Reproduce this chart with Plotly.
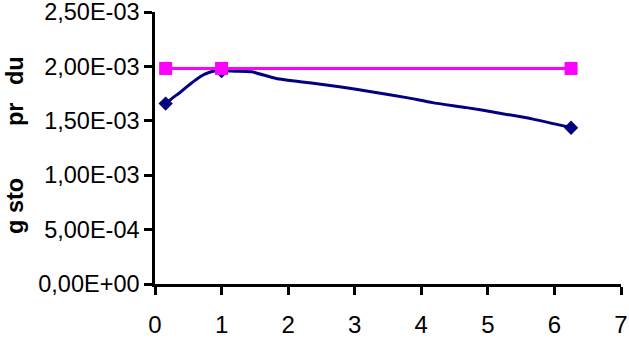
import plotly.graph_objects as go

# navy markers (measured points)
x_navy = [0.16, 1.0, 6.25]
y_navy = [1.659e-3, 1.957e-3, 1.437e-3]
# navy connecting curve
curve_x = [0.16, 0.27, 0.37, 0.49, 0.62, 0.74, 0.87, 1.0, 1.2, 1.45, 1.82, 2.32,
           2.77, 3.27, 3.78, 4.17, 4.68, 5.18, 5.68, 6.25]
curve_y = [1.659e-3, 1.714e-3, 1.759e-3, 1.820e-3, 1.881e-3, 1.927e-3, 1.957e-3,
           1.962e-3, 1.957e-3, 1.951e-3, 1.890e-3, 1.850e-3, 1.814e-3, 1.766e-3,
           1.714e-3, 1.668e-3, 1.622e-3, 1.571e-3, 1.516e-3, 1.437e-3]
# magenta series
x_mag = [0.16, 1.0, 6.25]
y_mag = [1.982e-3, 1.982e-3, 1.982e-3]

y_tickvals = [0, 5e-4, 1e-3, 1.5e-3, 2e-3, 2.5e-3]
y_ticktext = ["0,00E+00", "5,00E-04", "1,00E-03", "1,50E-03", "2,00E-03", "2,50E-03"]
x_tickvals = [0, 1, 2, 3, 4, 5, 6, 7]
title_words = ["g sto", "pr", "du"]

NAVY = "#000080"
MAGENTA = "#FF00FF"

fig = go.Figure()
fig.add_trace(go.Scatter(
    x=curve_x, y=curve_y, mode="lines",
    line=dict(color=NAVY, width=3, shape="spline", smoothing=0.5),
    cliponaxis=False, showlegend=False, hoverinfo="skip"))
fig.add_trace(go.Scatter(
    x=x_navy, y=y_navy, mode="markers",
    marker=dict(symbol="diamond", size=11, color=NAVY),
    cliponaxis=False, showlegend=False))
fig.add_trace(go.Scatter(
    x=x_mag, y=y_mag, mode="lines+markers",
    line=dict(color=MAGENTA, width=3),
    marker=dict(symbol="square", size=13, color=MAGENTA),
    cliponaxis=False, showlegend=False))

font = "Liberation Sans, Arial, sans-serif"
TOP, BOTTOM = 12, 284
# pixel centres of the title words
title_py = [206, 114, 71]
annotations = [dict(text="<b>" + w + "</b>", textangle=-90,
                    xref="paper", yref="paper", x=(15 - 155) / 466,
                    y=(BOTTOM - py) / (BOTTOM - TOP),
                    xanchor="center", yanchor="middle", showarrow=False,
                    borderpad=0,
                    font=dict(family=font, size=23.5, color="black"))
               for w, py in zip(title_words, title_py)]

fig.update_layout(
    width=629, height=339,
    margin=dict(l=155, r=8, t=TOP, b=339 - BOTTOM, autoexpand=False),
    paper_bgcolor="white", plot_bgcolor="white",
    font=dict(family=font, size=23.5, color="black"),
    xaxis=dict(range=[0, 7], tickvals=x_tickvals, ticks="outside", ticklen=8,
               tickwidth=2.5, tickcolor="black", showline=True, linecolor="black",
               linewidth=2.5, showgrid=False, zeroline=False, automargin=False,
               ticklabeloverflow="allow",
               ticklabelstandoff=9, tickfont=dict(size=24)),
    yaxis=dict(range=[0, 2.5012e-3], tickvals=y_tickvals, ticktext=y_ticktext,
               ticks="outside", ticklen=8, tickwidth=2.5, tickcolor="black",
               showline=True, linecolor="black", linewidth=2.5, automargin=False,
               ticklabeloverflow="allow",
               showgrid=False, zeroline=False, tickfont=dict(size=23.5)),
    annotations=annotations,
)
fig.write_html("out.html")
